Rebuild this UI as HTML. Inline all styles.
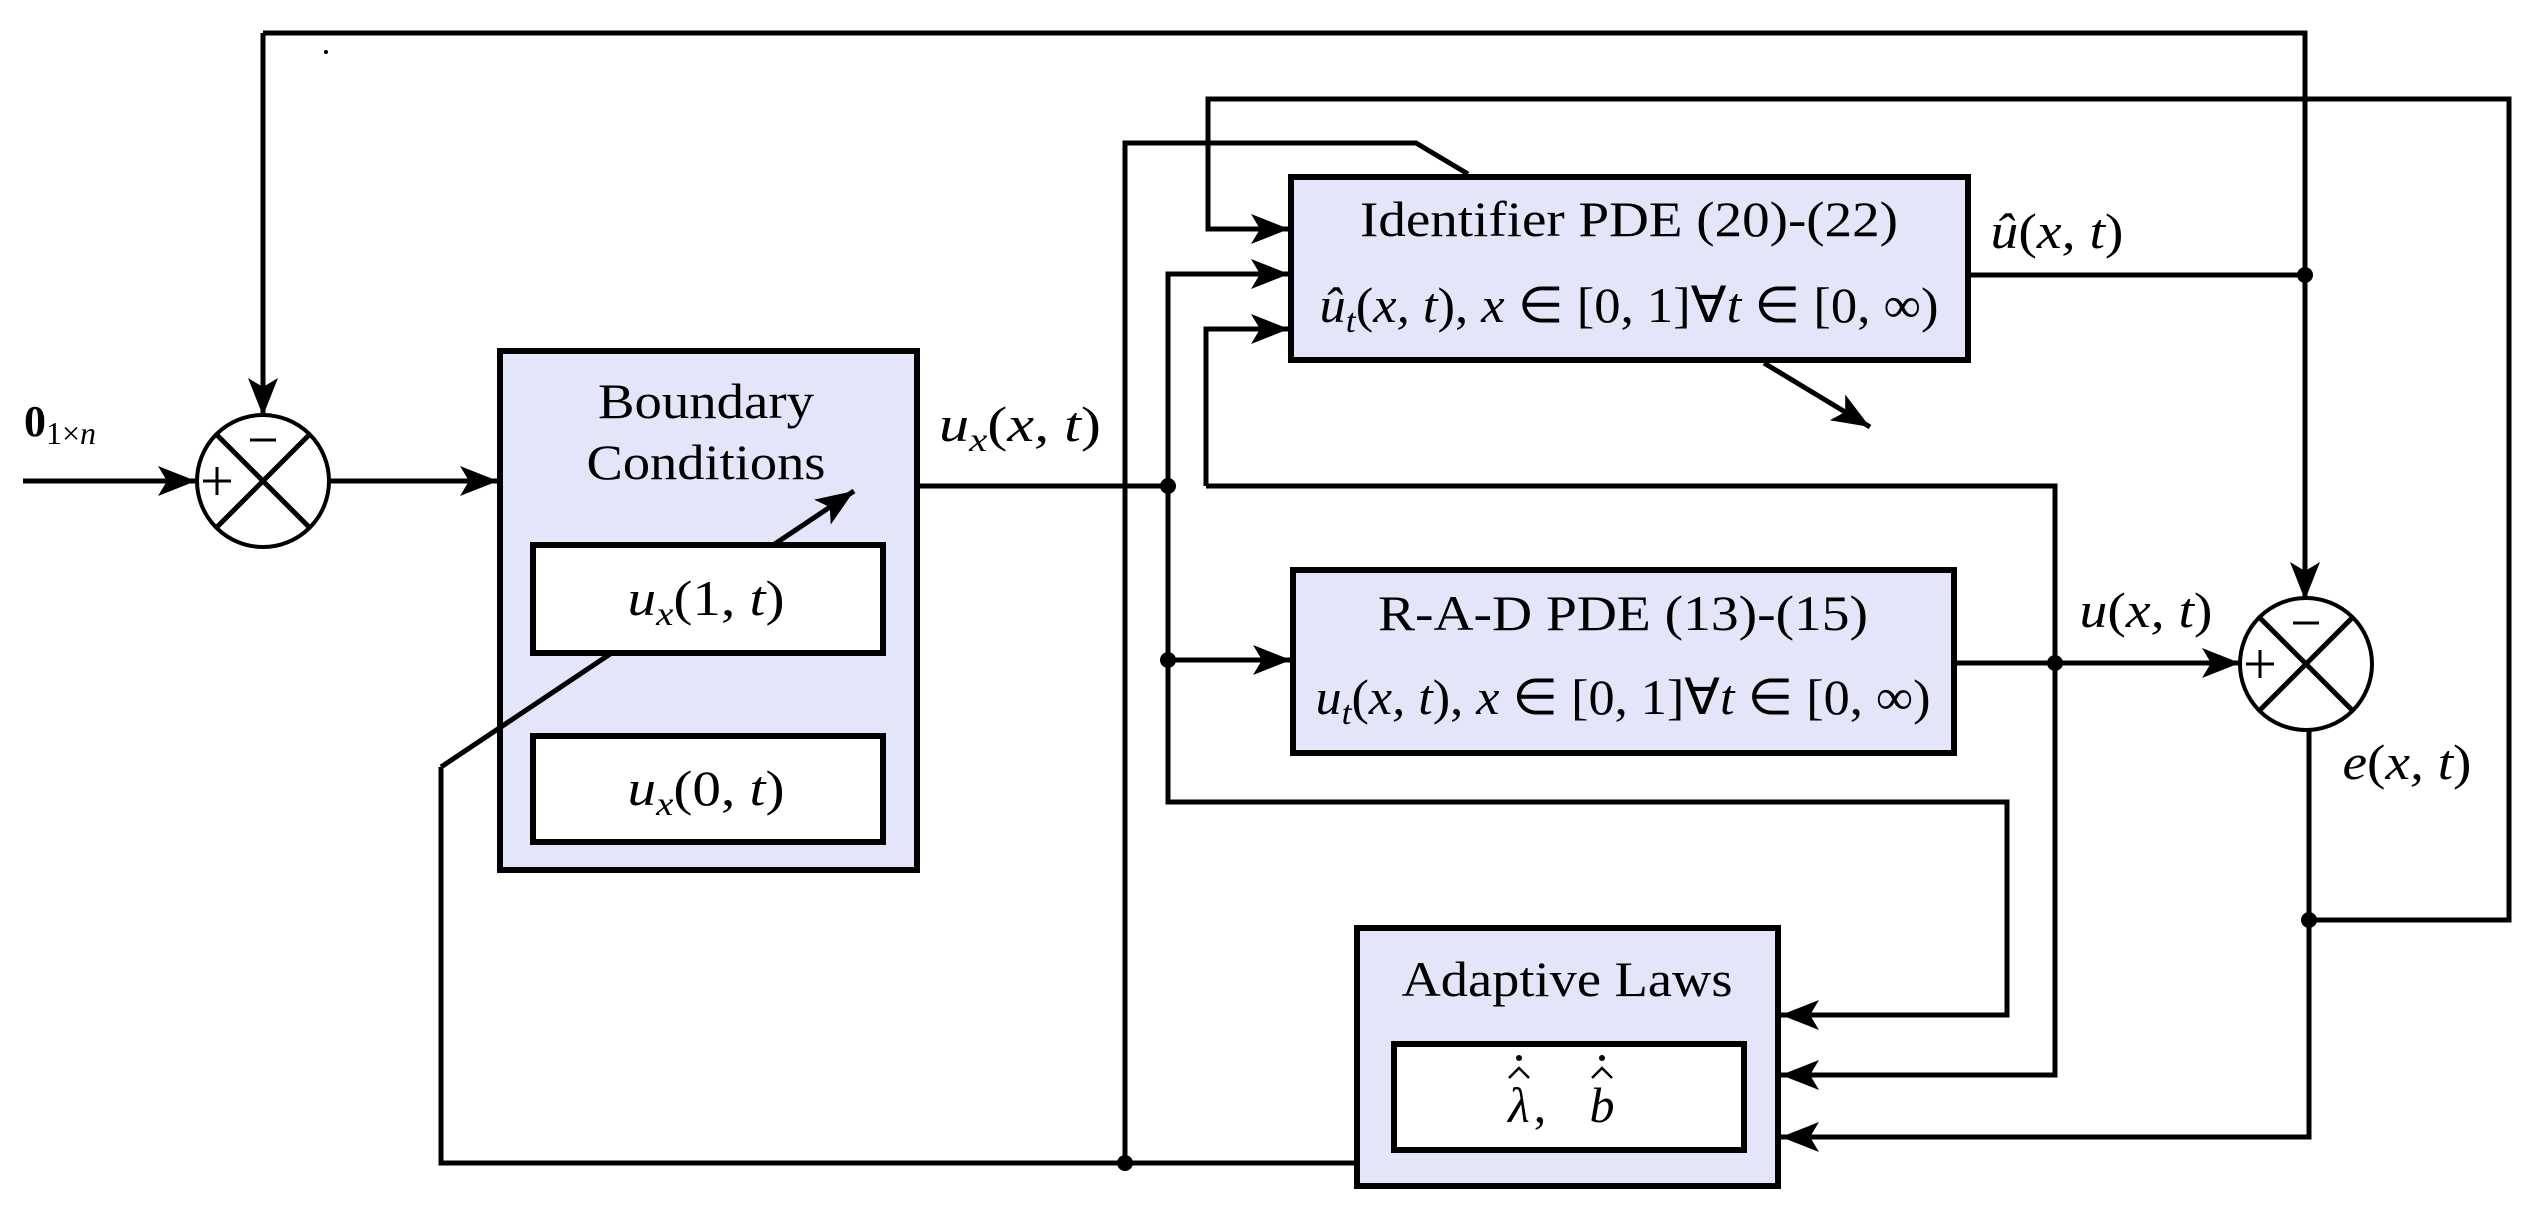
<!DOCTYPE html>
<html><head><meta charset="utf-8"><style>
html,body{margin:0;padding:0;background:#fff}
svg{display:block}
text{font-family:"Liberation Serif",serif;fill:#000}
.m{font-style:italic}
</style></head><body>
<svg width="2537" height="1210" viewBox="0 0 2537 1210" xmlns="http://www.w3.org/2000/svg">
<defs>
<marker id="a" markerUnits="userSpaceOnUse" markerWidth="42" markerHeight="32" refX="38" refY="15" orient="auto">
<path d="M0,0 L38,15 L0,30 L9,15 z" fill="#000"/>
</marker>
</defs>
<g fill="none" stroke="#000" stroke-width="5">
<polyline points="263,33 2305,33 2305,600" marker-end="url(#a)"/>
<line x1="263" y1="33" x2="263" y2="416" marker-end="url(#a)"/>
<line x1="23" y1="481" x2="196" y2="481" marker-end="url(#a)"/>
<line x1="329" y1="481" x2="498" y2="481" marker-end="url(#a)"/>
<polyline points="2309,920 2509,920 2509,99 1208,99 1208,229 1289,229" marker-end="url(#a)"/>
<polyline points="1125,1163 1125,143 1416,143 1468,174"/>
<line x1="917" y1="486" x2="1168" y2="486"/>
<polyline points="1168,660 1168,274 1289,274" marker-end="url(#a)"/>
<line x1="1168" y1="660" x2="1291" y2="660" marker-end="url(#a)"/>
<polyline points="1168,660 1168,802 2007,802 2007,1015 1781,1015" marker-end="url(#a)"/>
<polyline points="1206,486 1206,329 1289,329" marker-end="url(#a)"/>
<polyline points="1206,486 2055,486 2055,1075 1781,1075" marker-end="url(#a)"/>
<line x1="1968" y1="275" x2="2305" y2="275"/>
<line x1="1954" y1="663" x2="2240" y2="663" marker-end="url(#a)"/>
<polyline points="2309,729 2309,1137 1781,1137" marker-end="url(#a)"/>
<polyline points="1357,1163 441,1163 441,767"/>
<line x1="1764" y1="363" x2="1870" y2="427" marker-end="url(#a)"/>
</g>
<g stroke="#000" stroke-width="6" fill="#e3e5f8">
<rect x="500" y="351" width="417" height="519"/>
<rect x="1291" y="177" width="677" height="183"/>
<rect x="1293" y="570" width="661" height="183"/>
<rect x="1357" y="928" width="421" height="258"/>
</g>
<g fill="none" stroke="#000" stroke-width="5">
<line x1="441" y1="767" x2="854" y2="491" marker-end="url(#a)"/>
</g>
<g stroke="#000" stroke-width="6" fill="#fff">
<rect x="533" y="545" width="350" height="108"/>
<rect x="533" y="736" width="350" height="106"/>
<rect x="1394" y="1044" width="350" height="106"/>
</g>
<g fill="#fff" stroke="#000" stroke-width="4">
<circle cx="263" cy="481" r="66"/>
<circle cx="2306" cy="664" r="66"/>
</g>
<g stroke="#000" stroke-width="5">
<line x1="216" y1="434" x2="310" y2="528"/><line x1="310" y1="434" x2="216" y2="528"/>
<line x1="2259" y1="617" x2="2353" y2="711"/><line x1="2353" y1="617" x2="2259" y2="711"/>
</g>
<g stroke="#000" stroke-width="3">
<line x1="203" y1="481" x2="231" y2="481"/><line x1="217" y1="467" x2="217" y2="495"/>
<line x1="250" y1="440" x2="276" y2="440"/>
<line x1="2246" y1="664" x2="2274" y2="664"/><line x1="2260" y1="650" x2="2260" y2="678"/>
<line x1="2293" y1="623" x2="2319" y2="623"/>
</g>
<g fill="#000">
<circle cx="1168" cy="486" r="8"/><circle cx="1168" cy="660" r="8"/>
<circle cx="1125" cy="1163" r="8"/><circle cx="2305" cy="275" r="8"/>
<circle cx="2055" cy="663" r="8"/><circle cx="2309" cy="920" r="8"/>
<circle cx="326" cy="52" r="2"/>
</g>
<g font-size="50" text-anchor="middle">
<text x="706" y="418" textLength="216" lengthAdjust="spacingAndGlyphs">Boundary</text>
<text x="706" y="479" textLength="239" lengthAdjust="spacingAndGlyphs">Conditions</text>
<text x="706" y="615" textLength="157" lengthAdjust="spacingAndGlyphs"><tspan class="m">u</tspan><tspan class="m" font-size="34" dy="10">x</tspan><tspan dy="-10">(1, </tspan><tspan class="m">t</tspan>)</text>
<text x="706" y="805" textLength="157" lengthAdjust="spacingAndGlyphs"><tspan class="m">u</tspan><tspan class="m" font-size="34" dy="10">x</tspan><tspan dy="-10">(0, </tspan><tspan class="m">t</tspan>)</text>
<text x="1020" y="441" textLength="162" lengthAdjust="spacingAndGlyphs"><tspan class="m">u</tspan><tspan class="m" font-size="34" dy="10">x</tspan><tspan dy="-10">(</tspan><tspan class="m">x, t</tspan>)</text>
<text x="1629" y="236" textLength="538" lengthAdjust="spacingAndGlyphs">Identifier PDE (20)-(22)</text>
<text x="1629" y="322" textLength="619" lengthAdjust="spacingAndGlyphs"><tspan class="m">û</tspan><tspan class="m" font-size="34" dy="10">t</tspan><tspan dy="-10">(</tspan><tspan class="m">x, t</tspan>), <tspan class="m">x</tspan> ∈ [0, 1]∀<tspan class="m">t</tspan> ∈ [0, ∞)</text>
<text x="1623" y="630" textLength="490" lengthAdjust="spacingAndGlyphs">R-A-D PDE (13)-(15)</text>
<text x="1623" y="714" textLength="615" lengthAdjust="spacingAndGlyphs"><tspan class="m">u</tspan><tspan class="m" font-size="34" dy="10">t</tspan><tspan dy="-10">(</tspan><tspan class="m">x, t</tspan>), <tspan class="m">x</tspan> ∈ [0, 1]∀<tspan class="m">t</tspan> ∈ [0, ∞)</text>
<text x="1567" y="996" textLength="331" lengthAdjust="spacingAndGlyphs">Adaptive Laws</text>
<text x="2057" y="248" textLength="133" lengthAdjust="spacingAndGlyphs"><tspan class="m">û</tspan>(<tspan class="m">x, t</tspan>)</text>
<text x="2146" y="627" textLength="133" lengthAdjust="spacingAndGlyphs"><tspan class="m">u</tspan>(<tspan class="m">x, t</tspan>)</text>
<text x="2407" y="779" textLength="129" lengthAdjust="spacingAndGlyphs"><tspan class="m">e</tspan>(<tspan class="m">x, t</tspan>)</text>
<text x="1519" y="1122" class="m">λ</text><text x="1540" y="1122">,</text>
<text x="1602" y="1122" class="m">b</text>
</g>
<text x="24" y="436" font-size="44" font-weight="bold">0<tspan font-size="32" font-weight="normal" dy="8">1×</tspan><tspan font-size="32" font-weight="normal" font-style="italic">n</tspan></text>
<g fill="none" stroke="#000" stroke-width="2.5">
<polyline points="1509,1078 1519,1068 1529,1078"/>
<polyline points="1592,1078 1602,1068 1612,1078"/>
</g>
<circle cx="1519" cy="1058" r="3" fill="#000"/>
<circle cx="1602" cy="1058" r="3" fill="#000"/>
</svg>
</body></html>
